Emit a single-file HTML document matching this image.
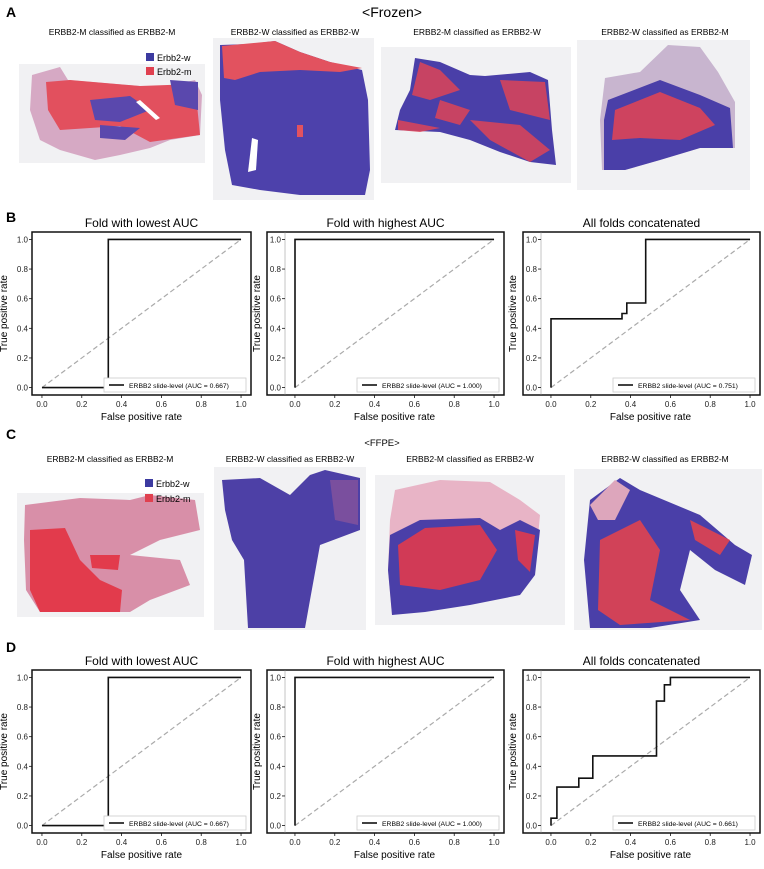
<!DOCTYPE html>
<html><head><meta charset="utf-8"><style>
html,body{margin:0;padding:0;background:#fff;}
svg{display:block;font-family:"Liberation Sans","DejaVu Sans",sans-serif;}
</style></head><body>
<svg id="fig" width="764" height="869" viewBox="0 0 764 869">
<g id="static">
<text x="6" y="17" font-size="14" font-weight="bold">A</text>
<text x="392" y="17" font-size="14" text-anchor="middle">&lt;Frozen&gt;</text>
<g font-size="8.5" text-anchor="middle">
<text x="112" y="35">ERBB2-M classified as ERBB2-M</text>
<text x="295" y="35">ERBB2-W classified as ERBB2-W</text>
<text x="477" y="35">ERBB2-M classified as ERBB2-W</text>
<text x="665" y="35">ERBB2-W classified as ERBB2-M</text>
</g>
<!-- A slides -->
<g>
<rect x="19" y="64" width="186" height="99" fill="#f1f1f3"/>
<path d="M32,75 L60,67 L68,80 L140,86 L160,88 L195,80 L202,95 L200,135 L170,140 L150,148 L120,155 L95,160 L60,150 L40,140 L30,110 Z" fill="#d6a9c4"/>
<path d="M46,82 L70,80 L140,86 L195,84 L200,135 L150,142 L120,126 L60,130 L48,110 Z" fill="#e2505e"/>
<path d="M90,100 L130,96 L150,110 L120,122 L95,120 Z M170,80 L198,82 L198,110 L175,105 Z M100,125 L140,128 L125,140 L100,138 Z" fill="#5a48ad"/>
<path d="M140,100 L160,118 L156,120 L136,102 Z" fill="#fff"/>
</g>
<g>
<rect x="146" y="53" width="8" height="8" fill="#3c3aa0"/>
<text x="157" y="61" font-size="9">Erbb2-w</text>
<rect x="146" y="67" width="8" height="8" fill="#e0404f"/>
<text x="157" y="75" font-size="9">Erbb2-m</text>
</g>
<g>
<rect x="213" y="38" width="161" height="162" fill="#f1f1f3"/>
<path d="M220,45 L250,44 L275,41 L300,52 L330,62 L362,70 L368,100 L370,170 L365,195 L300,195 L260,190 L232,185 L225,150 L220,100 Z" fill="#4d41ab"/>
<path d="M222,46 L275,41 L300,52 L330,62 L362,68 L340,72 L300,70 L260,72 L235,80 L224,78 Z" fill="#e2525f"/>
<rect x="297" y="125" width="6" height="12" fill="#e2525f"/>
<path d="M252,138 L258,140 L256,170 L248,172 Z" fill="#fff"/>
</g>
<g>
<rect x="381" y="47" width="190" height="136" fill="#f1f1f3"/>
<path d="M415,58 L440,62 L470,75 L485,76 L530,72 L548,80 L552,130 L556,165 L530,162 L500,152 L470,140 L440,132 L395,130 L400,110 L410,90 Z" fill="#4a3fa8"/>
<path d="M420,62 L440,70 L460,90 L430,100 L412,95 Z M500,80 L545,82 L550,120 L510,110 Z M398,120 L440,128 L420,132 L398,130 Z M470,120 L520,125 L550,150 L530,162 L490,140 Z M440,100 L470,110 L460,125 L435,118 Z" fill="#dd4457" opacity="0.85"/>
</g>
<g>
<rect x="577" y="40" width="173" height="150" fill="#f1f1f3"/>
<path d="M668,45 L700,47 L718,72 L735,102 L735,148 L700,148 L660,160 L625,170 L602,170 L600,120 L605,78 L640,72 Z" fill="#c8b5cf"/>
<path d="M608,100 L660,80 L700,95 L730,108 L733,148 L700,148 L660,160 L625,170 L604,170 L604,120 Z" fill="#4a3fa8"/>
<path d="M615,110 L660,92 L700,108 L715,125 L680,140 L640,138 L612,140 Z" fill="#dd4457" opacity="0.9"/>
</g>

<text x="6" y="222" font-size="14" font-weight="bold">B</text>
<text x="6" y="439" font-size="14" font-weight="bold">C</text>
<text x="382" y="446" font-size="9.5" text-anchor="middle">&lt;FFPE&gt;</text>
<g font-size="8.5" text-anchor="middle">
<text x="110" y="462">ERBB2-M classified as ERBB2-M</text>
<text x="290" y="462">ERBB2-W classified as ERBB2-W</text>
<text x="470" y="462">ERBB2-M classified as ERBB2-W</text>
<text x="665" y="462">ERBB2-W classified as ERBB2-M</text>
</g>
<g>
<rect x="17" y="493" width="187" height="124" fill="#f1f1f3"/>
<path d="M25,505 L80,498 L130,500 L150,495 L195,500 L200,530 L160,540 L130,555 L180,560 L190,585 L150,600 L130,612 L40,612 L26,590 L24,540 Z" fill="#d88fa8"/>
<path d="M30,530 L65,528 L80,560 L100,580 L122,590 L120,612 L40,612 L30,590 Z" fill="#e23b4c"/>
<path d="M90,555 L120,555 L118,570 L92,568 Z" fill="#e23b4c"/>
</g>
<g>
<rect x="145" y="479" width="8" height="8" fill="#3c3aa0"/>
<text x="156" y="487" font-size="9">Erbb2-w</text>
<rect x="145" y="494" width="8" height="8" fill="#e0404f"/>
<text x="156" y="502" font-size="9">Erbb2-m</text>
</g>
<g>
<rect x="214" y="467" width="152" height="163" fill="#f1f1f3"/>
<path d="M222,480 L260,478 L290,495 L310,475 L325,470 L360,478 L360,530 L320,545 L310,600 L305,628 L248,628 L244,560 L232,540 L225,510 Z" fill="#4d40a6"/>
<path d="M330,480 L358,480 L358,525 L335,520 Z" fill="#9a5a9a" opacity="0.6"/>
</g>
<g>
<rect x="375" y="475" width="190" height="150" fill="#f1f1f3"/>
<path d="M395,490 L440,480 L490,482 L520,500 L540,515 L535,570 L520,590 L480,600 L420,610 L392,615 L388,570 L390,520 Z" fill="#e8b4c6"/>
<path d="M390,535 L420,520 L480,518 L500,530 L520,520 L540,530 L535,575 L520,595 L470,605 L425,612 L392,615 L388,570 Z" fill="#4a3fa8"/>
<path d="M398,545 L425,528 L480,525 L497,550 L480,580 L440,590 L400,585 Z M515,530 L535,535 L530,572 L518,560 Z" fill="#e03a4c" opacity="0.9"/>
</g>
<g>
<rect x="574" y="469" width="188" height="161" fill="#f1f1f3"/>
<path d="M590,500 L620,478 L640,490 L700,515 L735,545 L752,555 L745,585 L715,570 L690,550 L680,590 L700,620 L650,628 L590,628 L584,560 Z" fill="#4a3fa8"/>
<path d="M590,505 L615,480 L630,490 L615,520 L598,520 Z" fill="#dda6bc"/>
<path d="M600,540 L640,520 L660,550 L650,600 L690,620 L620,625 L598,610 Z M690,520 L730,540 L720,555 L695,540 Z" fill="#e0424f" opacity="0.9"/>
</g>
<text x="6" y="652" font-size="14" font-weight="bold">D</text>
</g>
<g id="charts"></g>
</svg>
<script>
// ---- data ----
const xTicks = [0.0, 0.2, 0.4, 0.6, 0.8, 1.0];
const yTicks = [0.0, 0.2, 0.4, 0.6, 0.8, 1.0];
const tickLabels = ["0.0", "0.2", "0.4", "0.6", "0.8", "1.0"];
const chartTitles = ["Fold with lowest AUC", "Fold with highest AUC", "All folds concatenated"];
const bLowFpr = [0, 0.333, 0.333, 1];
const bLowTpr = [0, 0, 1, 1];
const bHighFpr = [0, 0, 1];
const bHighTpr = [0, 1, 1];
const bAllFpr = [0, 0, 0.357, 0.357, 0.381, 0.381, 0.476, 0.476, 1];
const bAllTpr = [0, 0.464, 0.464, 0.5, 0.5, 0.571, 0.571, 1, 1];
const dLowFpr = [0, 0.333, 0.333, 1];
const dLowTpr = [0, 0, 1, 1];
const dHighFpr = [0, 0, 1];
const dHighTpr = [0, 1, 1];
const dAllFpr = [0, 0, 0.03, 0.03, 0.14, 0.14, 0.21, 0.21, 0.53, 0.53, 0.57, 0.57, 0.6, 0.6, 1];
const dAllTpr = [0, 0.05, 0.05, 0.26, 0.26, 0.32, 0.32, 0.47, 0.47, 0.84, 0.84, 0.95, 0.95, 1, 1];
const bAuc = ["0.667", "1.000", "0.751"];
const dAuc = ["0.667", "1.000", "0.661"];

const NS = "http://www.w3.org/2000/svg";
const root = document.getElementById("charts");
function mk(tag, attrs, parent) {
  const e = document.createElementNS(NS, tag);
  for (const k in attrs) e.setAttribute(k, attrs[k]);
  (parent || root).appendChild(e);
  return e;
}
function drawChart(panel, idx, L, R, T, B, fpr, tpr, auc, frameL) {
  const g = mk("g", {});
  
  
  const sx = v => L + (v + 0.05) / 1.1 * (R - L);
  const sy = v => B - (v + 0.05) / 1.1 * (B - T);
  const t = mk("text", {x: (frameL + R) / 2, y: T - 5, "font-size": 12, "text-anchor": "middle"}, g);
  t.textContent = chartTitles[idx];
  
  
  const fr = mk("rect", {x: frameL, y: T, width: R - frameL, height: B - T, fill: "none", stroke: "#111", "stroke-width": 1.5}, g);
  
  
  if (frameL !== L) mk("line", {x1: L, y1: T, x2: L, y2: B, stroke: "#888", "stroke-width": 0.5}, g);
  xTicks.forEach((v, i) => {
    mk("line", {x1: sx(v), y1: B, x2: sx(v), y2: B + 3, stroke: "#111", "stroke-width": 0.8}, g);
    const tl = mk("text", {x: sx(v), y: B + 12, "font-size": 8, "text-anchor": "middle", fill: "#222"}, g);
    tl.textContent = tickLabels[i];
    
    
  });
  yTicks.forEach((v, i) => {
    mk("line", {x1: L - 3, y1: sy(v), x2: L, y2: sy(v), stroke: "#111", "stroke-width": 0.8}, g);
    const tl = mk("text", {x: L - 4, y: sy(v) + 3, "font-size": 8, "text-anchor": "end", fill: "#222"}, g);
    tl.textContent = tickLabels[i];
    
    
  });
  const xl = mk("text", {x: (L + R) / 2, y: B + 25, "font-size": 10, "text-anchor": "middle"}, g);
  xl.textContent = "False positive rate";
  
  
  const yx = L - 25, yy = (T + B) / 2;
  const yl = mk("text", {x: yx, y: yy, "font-size": 10, "text-anchor": "middle", transform: "rotate(-90 " + yx + " " + yy + ")"}, g);
  yl.textContent = "True positive rate";
  
  
  const dg = mk("line", {x1: sx(0), y1: sy(0), x2: sx(1), y2: sy(1), stroke: "#aaa", "stroke-width": 1.2, "stroke-dasharray": "5,3"}, g);
  
  
  const pts = fpr.map((v, i) => sx(v).toFixed(1) + "," + sy(tpr[i]).toFixed(1)).join(" ");
  const pl = mk("polyline", {points: pts, fill: "none", stroke: "#111", "stroke-width": 1.6}, g);
  
  
  const lw = 142, lh = 14, lx = R - lw - 5, ly = B - lh - 3;
  const lg = mk("g", {}, g);
  
  
  mk("rect", {x: lx, y: ly, width: lw, height: lh, fill: "#fff", stroke: "#ccc", "stroke-width": 0.8}, lg);
  mk("line", {x1: lx + 5, y1: ly + lh / 2, x2: lx + 20, y2: ly + lh / 2, stroke: "#111", "stroke-width": 1.6}, lg);
  const lt = mk("text", {x: lx + 25, y: ly + 10, "font-size": 6.8}, lg);
  lt.textContent = "ERBB2 slide-level (AUC = " + auc + ")";
  
  
}
const axesL = [32, 285, 541], axesR = [251, 504, 760], frameLs = [32, 267, 523];
const bF = [bLowFpr, bHighFpr, bAllFpr], bT = [bLowTpr, bHighTpr, bAllTpr];
const dF = [dLowFpr, dHighFpr, dAllFpr], dT = [dLowTpr, dHighTpr, dAllTpr];
for (let i = 0; i < 3; i++) {
  drawChart("b", i, axesL[i], axesR[i], 232, 395, bF[i], bT[i], bAuc[i], frameLs[i]);
  drawChart("d", i, axesL[i], axesR[i], 670, 833, dF[i], dT[i], dAuc[i], frameLs[i]);
}
</script>
</body></html>
